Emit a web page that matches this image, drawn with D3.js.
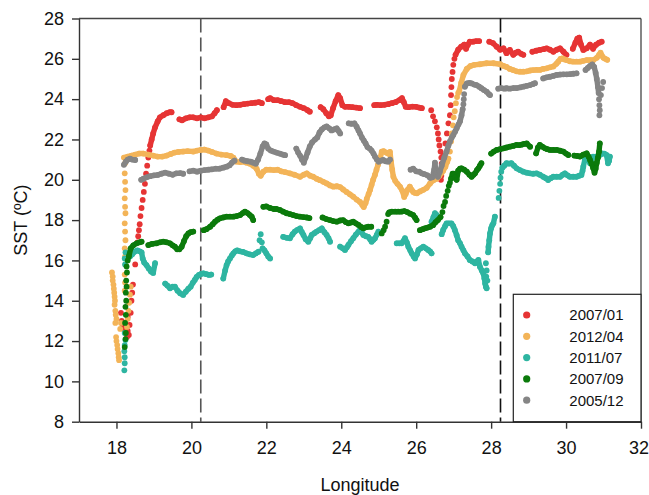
<!DOCTYPE html>
<html><head><meta charset="utf-8">
<script src="https://cdn.jsdelivr.net/npm/d3@7"></script>
<style>
body{margin:0;background:#fff;}
svg{display:block;font-family:"Liberation Sans",Arial,sans-serif;}
</style></head>
<body><svg id="c" width="649" height="495"></svg>
<script>
const categories = ["2007/01","2012/04","2011/07","2007/09","2005/12"];
const xTicks = [18,20,22,24,26,28,30,32];
const yTicks = [8,10,12,14,16,18,20,22,24,26,28];
const dashedLon = [20.25, 28.25];

// 2007/01 (red)
const tracks200701 = [
 [[18.9,21.7],[18.94,22.0],[18.98,22.3],[19.03,22.6],[19.1,22.9],[19.16,23.1],[19.25,23.2],[19.34,23.3],[19.42,23.35],[19.47,23.35]],
 [[19.68,23.0],[19.75,22.95],[19.85,23.05],[19.95,23.1],[20.05,23.1],[20.15,23.05],[20.25,23.1],[20.35,23.05],[20.45,23.1],[20.55,23.15],[20.62,23.3],[20.68,23.45]],
 [[20.86,23.6],[20.92,23.9],[21.0,23.8],[21.1,23.72],[21.2,23.7],[21.3,23.72],[21.4,23.75],[21.5,23.78],[21.6,23.8],[21.7,23.82],[21.8,23.85],[21.88,23.8]],
 [[22.05,24.0],[22.1,24.05],[22.2,23.95],[22.3,23.95],[22.4,23.9],[22.5,23.85],[22.6,23.85],[22.7,23.8],[22.8,23.7],[22.9,23.62],[23.0,23.55],[23.1,23.45],[23.16,23.38]],
 [[23.45,23.6],[23.52,23.5],[23.6,23.3],[23.67,23.15],[23.72,23.2],[23.78,23.55],[23.85,23.9],[23.92,24.2],[23.97,24.05],[24.03,23.7],[24.1,23.62],[24.2,23.62],[24.3,23.6],[24.4,23.58],[24.5,23.55]],
 [[24.88,23.7],[24.95,23.72],[25.05,23.7],[25.15,23.72],[25.25,23.75],[25.35,23.8],[25.45,23.85],[25.55,23.95],[25.62,24.05],[25.67,23.85],[25.72,23.62],[25.8,23.6],[25.9,23.63],[26.0,23.62],[26.08,23.58],[26.15,23.55]],
 [[27.05,26.2],[27.12,26.45],[27.2,26.6],[27.28,26.7],[27.33,26.5],[27.38,26.7],[27.43,26.85],[27.52,26.85],[27.6,26.88],[27.68,26.88]],
 [[27.95,26.85],[28.05,26.78],[28.15,26.6],[28.24,26.45],[28.33,26.52],[28.41,26.28],[28.5,26.44],[28.59,26.2],[28.66,26.3],[28.72,26.35],[28.8,26.25],[28.86,26.2]],
 [[29.1,26.35],[29.2,26.4],[29.3,26.44],[29.4,26.48],[29.48,26.52],[29.57,26.45],[29.66,26.35],[29.75,26.45],[29.84,26.52],[29.93,26.35],[30.01,26.2]],
 [[30.18,26.5],[30.25,26.8],[30.3,27.0],[30.35,27.05],[30.4,26.7],[30.46,26.44],[30.55,26.52],[30.64,26.7],[30.72,26.5],[30.8,26.7],[30.88,26.8],[30.95,26.85]]
];
const dots200701 = [[18.12,13.4],[18.14,13.0],[18.17,12.8],[18.2,12.6],[18.22,12.9],[18.25,12.4],[18.28,12.2],[18.3,12.5],[18.3,13.2],[18.33,12.3],[18.35,12.8],[18.38,13.4],[18.4,14.0],[18.42,14.4],[18.44,14.8],[18.5,15.8],[18.56,16.9],[18.58,17.2],[18.6,17.5],[18.62,17.8],[18.64,18.2],[18.67,18.6],[18.7,19.0],[18.73,19.4],[18.76,19.8],[18.79,20.3],[18.82,20.7],[18.85,21.1],[18.88,21.45],
 [26.4,23.45],[26.45,23.15],[26.5,22.9],[26.55,22.6],[26.58,22.3],[26.6,22.0],[26.62,21.7],[26.65,21.4],[26.67,21.1],[26.68,20.8],[26.68,20.5],[26.67,20.2],[26.66,20.0],
 [26.72,21.2],[26.78,21.8],[26.82,22.3],[26.86,22.8],[26.9,23.2],[26.92,23.7],[26.93,24.2],[26.94,24.6],[26.95,25.0],[26.97,25.35],[26.99,25.7],[27.02,26.0]];

// 2012/04 (orange)
const tracks201204 = [
 [[18.2,21.1],[18.3,21.15],[18.4,21.2],[18.5,21.25],[18.6,21.3],[18.72,21.3],[18.85,21.25],[18.98,21.2],[19.1,21.15],[19.22,21.15],[19.34,21.2],[19.45,21.28],[19.55,21.35],[19.65,21.38],[19.78,21.4],[19.9,21.42],[20.05,21.4],[20.15,21.45],[20.25,21.48],[20.35,21.5],[20.45,21.45],[20.55,21.38],[20.67,21.3],[20.8,21.25],[20.94,21.22],[21.05,21.18],[21.12,21.1],[21.2,20.9],[21.3,20.88],[21.38,20.9],[21.47,20.85],[21.56,20.8],[21.65,20.7],[21.74,20.55],[21.8,20.3],[21.85,20.2],[21.92,20.4],[22.0,20.5],[22.1,20.5],[22.2,20.48],[22.3,20.5],[22.4,20.42],[22.5,20.38],[22.63,20.32],[22.75,20.25],[22.9,20.15],[23.0,20.25],[23.08,20.32],[23.17,20.2],[23.25,20.15],[23.34,20.05],[23.43,19.98],[23.52,19.9],[23.61,19.82],[23.7,19.72],[23.79,19.66],[23.88,19.68],[23.97,19.64],[24.05,19.52],[24.14,19.4],[24.23,19.28],[24.32,19.16],[24.41,19.02],[24.5,18.9],[24.56,18.75],[24.6,18.65],[24.65,18.85],[24.68,19.05],[24.73,19.3],[24.77,19.5],[24.81,19.75],[24.85,20.0],[24.9,20.25],[24.94,20.5],[24.98,20.75],[25.03,21.0],[25.08,21.4],[25.13,21.42],[25.2,21.35],[25.25,21.3],[25.3,21.38],[25.33,20.9],[25.36,20.5],[25.39,20.15],[25.44,19.95],[25.5,19.8],[25.57,19.65],[25.63,19.45],[25.68,19.15],[25.72,19.3],[25.77,19.5],[25.83,19.66],[25.88,19.5],[25.92,19.4],[25.97,19.35],[26.02,19.33],[26.1,19.42],[26.19,19.5],[26.28,19.6],[26.37,19.82],[26.46,19.98],[26.55,20.05],[26.62,20.2],[26.68,20.35],[26.72,20.45],[26.78,20.65],[26.83,20.9],[26.86,21.05]],
 [[27.15,24.4],[27.2,24.8],[27.26,25.2],[27.35,25.5],[27.45,25.65],[27.55,25.7],[27.7,25.73],[27.88,25.78],[28.06,25.78],[28.24,25.73],[28.33,25.65],[28.41,25.6],[28.5,25.5],[28.59,25.44],[28.68,25.38],[28.77,25.36],[28.86,25.36],[28.95,25.38],[29.04,25.42],[29.12,25.44],[29.21,25.45],[29.3,25.45],[29.39,25.5],[29.48,25.53],[29.57,25.58],[29.66,25.62],[29.74,25.75],[29.79,25.86],[29.85,26.0],[29.9,26.02],[29.96,25.97],[30.01,25.94],[30.1,25.88],[30.19,25.86],[30.28,25.86],[30.37,25.86],[30.46,25.9],[30.55,25.94],[30.64,25.94],[30.73,25.94],[30.82,26.05],[30.88,26.2],[30.92,26.3],[30.96,26.15],[31.0,26.05],[31.05,26.0],[31.1,25.95]]
];
const dots201204 = [[17.88,15.4],[17.9,15.2],[17.9,15.0],[17.92,14.8],[17.93,14.6],[17.94,14.4],[17.95,14.2],[17.96,14.0],[17.95,13.8],[17.97,13.5],[17.98,13.3],[18.0,13.1],[17.97,12.9],[17.99,12.2],[18.0,12.0],[18.02,11.8],[18.03,11.6],[18.05,11.4],[18.06,11.2],[18.07,11.05],[18.1,12.6],[18.12,12.9],
 [18.28,12.7],[18.3,13.1],[18.32,13.5],[18.34,13.9],[18.36,14.3],[18.38,14.7],
 [18.22,14.5],[18.23,14.9],[18.22,15.3],[18.24,15.8],[18.23,16.2],[18.22,16.6],[18.24,17.0],[18.23,17.43],[18.22,17.84],[18.24,18.34],[18.23,18.66],[18.22,19.08],[18.24,19.49],[18.23,19.9],[18.22,20.32],[18.23,20.82],
 [26.9,21.4],[26.93,21.9],[26.95,22.3],[26.98,22.7],[27.0,23.1],[27.03,23.4],[27.06,23.8],[27.09,24.1],[27.12,24.3]];

// 2011/07 (teal)
const tracks201107 = [
 [[18.3,16.1],[18.36,16.2],[18.42,16.3],[18.5,16.45],[18.56,16.5],[18.62,16.45],[18.67,16.4],[18.7,16.1],[18.74,15.9],[18.8,15.77],[18.86,15.6],[18.92,15.45],[18.98,15.38],[19.03,15.86]],
 [[19.3,14.85],[19.36,14.75],[19.43,14.62],[19.5,14.7],[19.56,14.7],[19.63,14.5],[19.7,14.37],[19.78,14.29],[19.85,14.45],[19.92,14.6],[19.98,14.7],[20.04,14.9],[20.09,15.03],[20.14,15.18],[20.2,15.28],[20.26,15.33],[20.32,15.36],[20.4,15.32],[20.47,15.28],[20.53,15.3]],
 [[20.85,15.1],[20.9,15.5],[20.94,15.77],[20.98,15.95],[21.03,16.1],[21.08,16.25],[21.12,16.35],[21.17,16.45],[21.22,16.5],[21.3,16.45],[21.38,16.42],[21.47,16.35],[21.56,16.3],[21.65,16.27],[21.72,16.35],[21.79,16.43]],
 [[21.9,16.6],[21.95,16.5],[22.0,16.35],[22.05,16.2],[22.1,16.1]],
 [[22.45,17.17],[22.55,17.12],[22.63,17.1],[22.7,17.3],[22.76,17.43],[22.83,17.52],[22.9,17.59],[22.95,17.4],[22.99,17.26],[23.05,17.05],[23.12,16.93],[23.17,17.1],[23.21,17.26],[23.28,17.35],[23.34,17.43],[23.41,17.5],[23.48,17.59],[23.55,17.4],[23.61,17.26],[23.66,17.1],[23.7,16.93]],
 [[23.97,16.68],[24.04,16.6],[24.1,16.52],[24.15,16.65],[24.19,16.77],[24.26,16.95],[24.32,17.1],[24.39,17.28],[24.46,17.43],[24.5,17.51],[24.55,17.38],[24.59,17.26],[24.66,17.2],[24.72,17.17],[24.77,17.05],[24.81,16.93],[24.86,17.02],[24.9,17.1],[24.95,17.28],[24.99,17.43]],
 [[25.48,16.85],[25.55,16.85],[25.61,16.85],[25.66,16.97],[25.7,17.1],[25.75,16.9],[25.79,16.68],[25.84,16.5],[25.88,16.35],[25.93,16.2],[25.97,16.1],[26.02,16.3],[26.06,16.52],[26.12,16.6],[26.19,16.68],[26.26,16.6],[26.32,16.52],[26.37,16.45],[26.41,16.35]],
 [[26.41,17.92],[26.46,18.15],[26.5,18.34],[26.55,18.25],[26.59,18.09]],
 [[26.68,17.3],[26.72,17.51],[26.77,17.7],[26.81,17.84],[26.87,17.84],[26.94,17.84],[26.99,17.7],[27.03,17.51],[27.08,17.25],[27.12,17.0],[27.17,16.85],[27.21,16.68],[27.26,16.5],[27.3,16.35],[27.37,16.2],[27.43,16.02],[27.5,15.95],[27.57,15.86],[27.62,15.95],[27.66,16.02],[27.7,15.69],[27.75,15.5],[27.79,15.36],[27.82,15.1],[27.84,14.86],[27.86,14.7],[27.88,14.62]],
 [[27.92,16.4],[27.93,16.68],[27.95,17.0],[27.97,17.34],[28.0,17.6],[28.03,17.75],[28.06,17.84],[28.1,18.17]],
 [[28.3,20.6],[28.35,20.7],[28.41,20.82],[28.47,20.8],[28.54,20.82],[28.61,20.7],[28.68,20.57],[28.77,20.48],[28.86,20.4],[28.95,20.35],[29.04,20.32],[29.12,20.3],[29.21,20.32],[29.3,20.25],[29.39,20.15],[29.46,20.08],[29.52,19.99],[29.59,20.08],[29.66,20.15],[29.75,20.15],[29.84,20.15],[29.91,20.25],[29.97,20.32],[30.04,20.22],[30.1,20.15],[30.19,20.15],[30.28,20.15],[30.35,20.2],[30.41,20.24],[30.44,20.45],[30.46,20.65],[30.5,20.98],[30.55,21.15],[30.6,21.0],[30.64,20.82],[30.68,21.0],[30.72,21.15],[30.79,21.15],[30.86,21.15],[30.92,21.25],[30.95,21.31],[31.02,21.3],[31.08,21.23],[31.12,20.82],[31.15,20.95],[31.17,21.15]]
];
const dots201107 = [[18.21,10.55],[18.22,10.9],[18.22,11.2],[18.21,11.5],[18.22,11.8],[18.24,12.05],[18.22,12.4],[18.23,15.8],[18.22,16.1],[18.24,16.4],
 [21.82,17.0],[21.85,17.3],[21.88,16.9],
 [27.87,15.2],[27.88,15.5],[27.86,15.86],[27.9,15.0],
 [28.2,19.1],[28.22,19.45],[28.24,19.8],[28.25,20.1],[28.27,20.4]];

// 2007/09 (green)
const tracks200709 = [
 [[18.33,16.2],[18.38,16.6],[18.45,16.75],[18.54,16.85],[18.62,16.9],[18.67,16.93]],
 [[18.85,16.76],[18.95,16.82],[19.07,16.85],[19.16,16.9],[19.25,16.93],[19.34,16.9],[19.43,16.85],[19.5,16.75],[19.56,16.68],[19.62,16.55],[19.68,16.55],[19.74,16.68],[19.8,16.95],[19.86,17.2],[19.92,17.34],[19.98,17.4],[20.05,17.43]],
 [[20.33,17.5],[20.4,17.55],[20.5,17.67],[20.57,17.8],[20.63,17.92],[20.7,18.02],[20.76,18.09],[20.85,18.13],[20.94,18.17],[21.03,18.17],[21.12,18.17],[21.2,18.2],[21.3,18.25],[21.37,18.35],[21.43,18.42],[21.5,18.35],[21.56,18.25],[21.61,18.17],[21.65,18.0]],
 [[21.92,18.66],[22.0,18.68],[22.1,18.6],[22.2,18.55],[22.27,18.55],[22.36,18.5],[22.45,18.42],[22.54,18.34],[22.63,18.3],[22.72,18.25],[22.81,18.2],[22.9,18.17],[22.99,18.15],[23.08,18.13],[23.15,18.1]],
 [[23.5,18.13],[23.6,18.05],[23.7,18.0],[23.79,17.95],[23.88,17.92],[23.97,17.98],[24.05,18.0],[24.12,17.9],[24.19,17.84],[24.26,17.88],[24.32,17.92],[24.39,17.84],[24.46,17.76],[24.53,17.66],[24.59,17.59],[24.65,17.64],[24.72,17.67],[24.8,17.67]],
 [[25.28,18.38],[25.35,18.42],[25.44,18.42],[25.52,18.42],[25.6,18.42],[25.68,18.45],[25.76,18.4],[25.84,18.32],[25.92,18.25],[25.97,18.12],[26.01,18.0]],
 [[26.1,17.5],[26.17,17.55],[26.23,17.59],[26.3,17.63],[26.37,17.67],[26.45,17.75],[26.52,17.9],[26.58,18.0],[26.65,18.15]],
 [[26.93,20.05],[26.97,20.3],[27.0,20.3],[27.04,20.1],[27.08,20.0],[27.12,20.45],[27.17,20.55],[27.21,20.57],[27.28,20.5],[27.35,20.4],[27.42,20.25],[27.48,20.15],[27.53,20.25],[27.57,20.32],[27.62,20.48],[27.66,20.57],[27.7,20.7],[27.74,20.82]],
 [[28.0,21.3],[28.07,21.4],[28.15,21.48],[28.24,21.52],[28.33,21.56],[28.41,21.6],[28.5,21.64],[28.59,21.68],[28.68,21.73],[28.75,21.72],[28.81,21.74],[28.88,21.78],[28.95,21.8],[29.04,21.64]],
 [[29.2,21.31],[29.25,21.6],[29.3,21.73],[29.37,21.64],[29.44,21.56],[29.5,21.52],[29.57,21.48],[29.66,21.48],[29.75,21.48],[29.84,21.44],[29.93,21.4],[30.0,21.3],[30.06,21.23]],
 [[30.22,21.2],[30.3,21.18],[30.37,21.15],[30.46,21.25],[30.55,21.31],[30.6,21.15],[30.64,20.98],[30.68,20.8],[30.72,20.6],[30.76,20.35],[30.79,20.55],[30.82,20.85],[30.85,21.1],[30.88,21.4],[30.9,21.8]]
];
const dots200709 = [[18.22,11.7],[18.24,12.1],[18.25,12.4],[18.23,12.9],[18.25,13.3],[18.24,13.7],[18.26,14.0],[18.25,14.4],[18.27,14.7],[18.26,15.0],[18.28,15.4],[18.27,15.7],[18.3,16.0],
 [25.08,17.34],[25.13,17.5],[25.17,17.67],[25.21,17.92],[25.25,18.3],
 [26.7,18.4],[26.73,18.7],[26.77,18.9],[26.8,19.2],[26.84,19.45],[26.87,19.7],[26.9,19.85]];

// 2005/12 (gray)
const tracks200512 = [
 [[18.2,20.75],[18.25,20.9],[18.3,21.0],[18.36,21.05],[18.42,21.0],[18.5,20.98]],
 [[18.66,20.0],[18.72,20.05],[18.8,20.12],[18.9,20.18],[19.0,20.22],[19.1,20.24],[19.2,20.3],[19.3,20.35],[19.4,20.3],[19.5,20.25],[19.6,20.32],[19.7,20.33],[19.78,20.3]],
 [[19.95,20.42],[20.05,20.45],[20.15,20.4],[20.25,20.45],[20.35,20.48],[20.45,20.5],[20.55,20.52],[20.65,20.55],[20.75,20.55],[20.85,20.6],[20.94,20.65],[21.02,20.72],[21.08,20.85],[21.15,20.95]],
 [[21.35,21.0],[21.42,20.95],[21.5,20.92],[21.58,20.9],[21.65,20.85],[21.72,20.8],[21.78,21.0],[21.84,21.3],[21.9,21.65],[21.95,21.8],[22.0,21.75],[22.05,21.55],[22.12,21.45],[22.19,21.4],[22.27,21.35],[22.36,21.3],[22.44,21.25],[22.5,21.22]],
 [[22.8,21.55],[22.85,21.35],[22.9,21.2],[22.95,21.0],[23.0,20.85],[23.05,21.1],[23.1,21.35],[23.16,21.65],[23.22,21.85],[23.3,22.0],[23.36,22.1],[23.42,22.35],[23.48,22.5],[23.55,22.6],[23.61,22.65],[23.68,22.55],[23.74,22.45],[23.81,22.5],[23.88,22.55],[23.93,22.42],[23.97,22.3]],
 [[24.2,22.8],[24.27,22.78],[24.35,22.8],[24.41,22.63],[24.46,22.45],[24.5,22.3],[24.55,22.1],[24.6,21.95],[24.65,21.8],[24.7,21.62],[24.76,21.55],[24.81,21.45],[24.86,21.3],[24.9,21.15],[24.95,21.0],[25.0,20.9],[25.06,20.95],[25.12,20.98],[25.18,20.92],[25.25,20.9],[25.3,21.0]],
 [[25.85,20.5],[25.92,20.55],[26.0,20.42],[26.08,20.4],[26.15,20.32],[26.22,20.28],[26.3,20.22],[26.37,20.1],[26.43,20.12],[26.48,20.5],[26.5,20.85],[26.53,20.3],[26.58,20.15],[26.63,20.4],[26.68,20.7],[26.75,21.1],[26.81,21.4],[26.86,21.7],[26.9,21.9],[26.95,22.1],[26.99,22.22],[27.04,22.4],[27.08,22.55],[27.13,22.75],[27.17,22.9],[27.21,23.2],[27.24,23.5]],
 [[27.3,24.62],[27.35,24.78],[27.42,24.8],[27.48,24.78],[27.55,24.72],[27.61,24.7],[27.68,24.62],[27.74,24.54],[27.81,24.45],[27.88,24.37],[27.94,24.25],[27.97,24.2]],
 [[28.19,24.52],[28.27,24.55],[28.35,24.52],[28.41,24.54],[28.5,24.52],[28.59,24.55],[28.68,24.55],[28.77,24.58],[28.86,24.62],[28.95,24.66],[29.04,24.7],[29.12,24.75],[29.17,24.79]],
 [[29.39,25.03],[29.48,25.08],[29.57,25.11],[29.66,25.15],[29.75,25.2],[29.84,25.22],[29.93,25.23],[30.02,25.23],[30.1,25.24],[30.19,25.26],[30.28,25.28]],
 [[30.52,25.45],[30.58,25.55],[30.64,25.65],[30.7,25.72],[30.75,25.6],[30.79,25.3],[30.82,25.0],[30.85,24.6],[30.87,24.3]]
];
const dots200512 = [[27.26,23.75],[27.27,24.0],[27.28,24.25],
 [30.88,24.0],[30.89,23.7],[30.9,23.45],[30.89,23.2],[30.93,24.2],[30.96,24.55],[30.99,24.85]];

const seriesTracks = [tracks200701, tracks201204, tracks201107, tracks200709, tracks200512];
const seriesDots = [dots200701, dots201204, dots201107, dots200709, dots200512];
const colors = ["#e63434","#f3b458","#2eb5a1","#0b7a0b","#858585"];

const svg = d3.select("#c");
const L = 79, R = 641, T = 18.5, B = 421.7;
const x = d3.scaleLinear().domain([17,32]).range([L,R]);
const y = d3.scaleLinear().domain([8,28]).range([B,T]);

// frame top/right
svg.append("line").attr("x1",L).attr("x2",R).attr("y1",T).attr("y2",T).attr("stroke","#444").attr("stroke-width",1.3);
svg.append("line").attr("x1",R).attr("x2",R).attr("y1",T).attr("y2",B).attr("stroke","#444").attr("stroke-width",1.3);

// dashed verticals
svg.selectAll(".dash").data(dashedLon).join("line")
  .attr("x1",d=>x(d)).attr("x2",d=>x(d)).attr("y1",T).attr("y2",B)
  .attr("stroke",(d,i)=> i===0 ? "#555" : "#111").attr("stroke-width",1.6)
  .attr("stroke-dasharray","14,5");

const line = d3.line().x(d=>x(d[0])).y(d=>y(d[1]));
const g = svg.append("g");
seriesTracks.forEach((tracks,i)=>{
  const c = colors[i];
  const sg = g.append("g");
  sg.selectAll("path").data(tracks).join("path")
    .attr("d",line).attr("fill","none").attr("stroke",c)
    .attr("stroke-width",5.4).attr("stroke-linecap","round").attr("stroke-linejoin","round");
  const pts = tracks.flat().concat(seriesDots[i]);
  sg.selectAll("circle").data(pts).join("circle")
    .attr("cx",d=>x(d[0])).attr("cy",d=>y(d[1])).attr("r",2.9).attr("fill",c);
});

// axes
const xa = svg.append("g").attr("transform",`translate(0,${B})`)
  .call(d3.axisBottom(x).tickValues(xTicks).tickSizeInner(7).tickSizeOuter(0).tickPadding(13));
const ya = svg.append("g").attr("transform",`translate(${L},0)`)
  .call(d3.axisLeft(y).tickValues(yTicks).tickSizeInner(7).tickSizeOuter(0).tickPadding(8));
[xa,ya].forEach(a=>{
  a.selectAll("path,line").attr("stroke","#333").attr("stroke-width",1.4);
  a.selectAll("text").attr("font-size",18).attr("fill","#111").attr("font-family","Liberation Sans, Arial, sans-serif");
});
// keep the last x label inside the picture
xa.selectAll(".tick text").filter(d=>d===32).attr("dx",-2.5);

// axis titles
svg.append("text").attr("x",(L+R)/2).attr("y",491).attr("text-anchor","middle")
  .attr("font-size",18).attr("fill","#111").text("Longitude");
svg.append("text").attr("transform",`translate(27,${(T+B)/2}) rotate(-90)`).attr("text-anchor","middle")
  .attr("font-size",18).attr("fill","#111").text("SST (ºC)");

// legend
const lg = svg.append("g");
lg.append("rect").attr("x",513.3).attr("y",294.3).attr("width",R-513.3).attr("height",B-294.3)
  .attr("fill","#fff").attr("stroke","#222").attr("stroke-width",1.2);
const ly0 = 315, ldy = 21.3;
lg.selectAll("circle").data(categories).join("circle")
  .attr("cx",526.7).attr("cy",(d,i)=>ly0+i*ldy).attr("r",3.6).attr("fill",(d,i)=>colors[i]);
lg.selectAll("text").data(categories).join("text")
  .attr("x",569.3).attr("y",(d,i)=>ly0+i*ldy).attr("dy","0.36em")
  .attr("font-size",15).attr("fill","#111").text(d=>d);
</script>
</body></html>
